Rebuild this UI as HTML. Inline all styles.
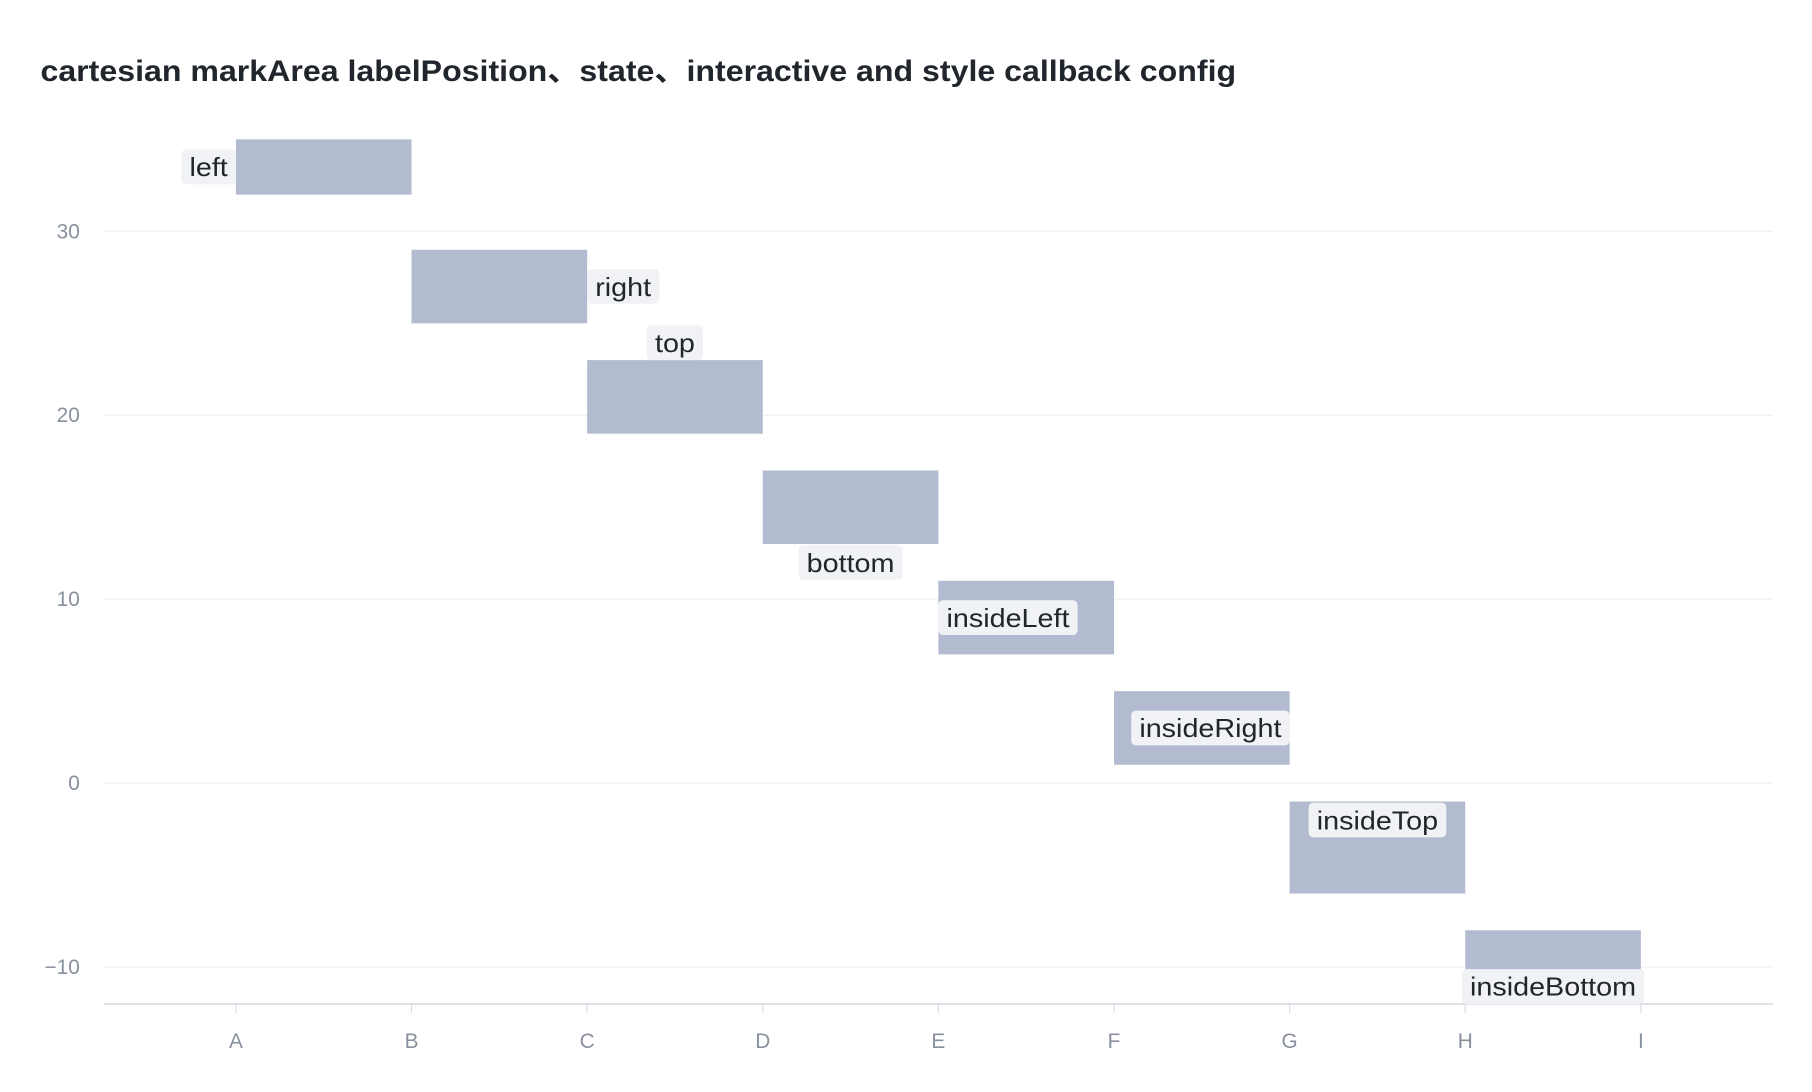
<!DOCTYPE html>
<html><head><meta charset="utf-8"><style>
html,body{margin:0;padding:0;background:#fff;}
svg{display:block;font-family:"Liberation Sans","Noto Sans CJK SC",sans-serif;}
</style></head><body>
<svg id="chart" width="1812" height="1092" viewBox="0 0 1567 944" preserveAspectRatio="none" xmlns="http://www.w3.org/2000/svg">
<text x="35" y="70" font-size="26" font-weight="bold" fill="#21252c" textLength="1034" lengthAdjust="spacingAndGlyphs">cartesian markArea labelPosition、state、interactive and style callback config</text>
<g id="grid"></g><g id="areas"></g><g id="axes"></g><g id="labels"></g>
</svg>
<script>
const categories = ['A','B','C','D','E','F','G','H','I'];
const yTicks = [30,20,10,0,-10];
const areaX0 = ['A','B','C','D','E','F','G','H'];
const areaX1 = ['B','C','D','E','F','G','H','I'];
const areaY0 = [32,25,19,13,7,1,-6,-12];
const areaY1 = [35,29,23,17,11,5,-1,-8];
const areaLabels = ['left','right','top','bottom','insideLeft','insideRight','insideTop','insideBottom'];

const NS='http://www.w3.org/2000/svg';
const plotL=90, plotR=1533, yMin=-12;
const y=v=>677-(v*15.9);
const x=c=>204+categories.indexOf(c)*151.875;
function mk(tag,attrs,parent,txt){const e=document.createElementNS(NS,tag);for(const k in attrs)e.setAttribute(k,attrs[k]);if(txt!==undefined)e.textContent=txt;parent.appendChild(e);return e;}
const grid=document.getElementById('grid'),axes=document.getElementById('axes'),areas=document.getElementById('areas'),labels=document.getElementById('labels');
yTicks.forEach(t=>{
  const l=mk('line',{x1:plotL,x2:plotR,y1:y(t),y2:y(t),stroke:'#eef0f3','stroke-width':1},grid);
  
  
  const tx=mk('text',{x:69,y:y(t)+6,'text-anchor':'end','font-size':18,fill:'#89909d'},axes,t<0?'\u2212'+Math.abs(t):String(t));
  
  
});
const ax=mk('line',{x1:plotL,x2:plotR,y1:y(yMin),y2:y(yMin),stroke:'#d9dde4','stroke-width':1.5},axes);


categories.forEach(c=>{
  const tk=mk('line',{x1:x(c),x2:x(c),y1:y(yMin),y2:y(yMin)+8,stroke:'#d9dde4','stroke-width':1},axes);
  
  
  const tl=mk('text',{x:x(c),y:y(yMin)+38,'text-anchor':'middle','font-size':18,fill:'#89909d'},axes,c);
  
  
});
areaLabels.forEach((name,i)=>{
  const X0=x(areaX0[i]),X1=x(areaX1[i]),Yt=y(areaY1[i]),Yb=y(areaY0[i]);
  const r=mk('rect',{x:X0,y:Yt,width:X1-X0,height:Yb-Yt,fill:'#b3bbd0'},areas);
  
  
  const g=mk('g',{},labels);
  
  
  const bg=mk('rect',{rx:4,fill:'#f1f2f6'},g);
  const t=mk('text',{'font-size':22,fill:'#21252c','text-anchor':'middle'},g,name);
  const tw=t.getComputedTextLength()*1.13;
  t.setAttribute('textLength',tw);
  t.setAttribute('lengthAdjust','spacingAndGlyphs');
  const w=tw+14,h=30;
  let cx=(X0+X1)/2,cy=(Yt+Yb)/2;
  if(name==='left')cx=X0-w/2;
  if(name==='right')cx=X1+w/2;
  if(name==='top')cy=Yt-h/2;
  if(name==='bottom')cy=Yb+h/2+1;
  if(name==='insideLeft')cx=X0+w/2;
  if(name==='insideRight')cx=X1-w/2;
  if(name==='insideTop')cy=Yt+h/2+1;
  if(name==='insideBottom')cy=Yb-h/2;
  bg.setAttribute('x',cx-w/2);bg.setAttribute('y',cy-h/2);bg.setAttribute('width',w);bg.setAttribute('height',h);
  t.setAttribute('x',cx);t.setAttribute('y',cy+8);
});
</script>
</body></html>
